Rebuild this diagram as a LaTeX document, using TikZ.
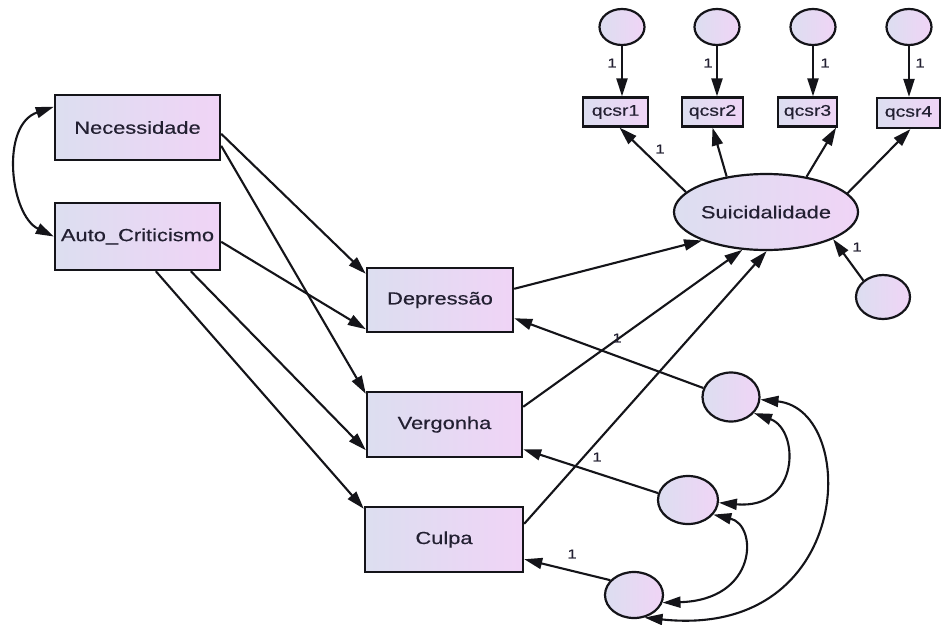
\documentclass[tikz,border=0pt]{standalone}
\usepackage{fontspec}
\newfontfamily\dfont[FakeStretch=1.25,FakeBold=0.4]{Liberation Sans}
\usetikzlibrary{shapes.geometric,arrows.meta,calc}
\definecolor{fillL}{RGB}{220,222,240}
\definecolor{fillR}{RGB}{240,212,246}
\definecolor{ink}{RGB}{35,32,50}
\definecolor{lnc}{RGB}{20,20,25}
\begin{document}
\begin{tikzpicture}[x=1pt,y=-1pt,
 rbox/.style={draw=lnc,line width=2.4pt,left color=fillL,right color=fillR,inner sep=0pt,font=\dfont\fontsize{17.5}{20}\selectfont,text=ink},
 obs/.style={rbox,font=\dfont\fontsize{15.5}{18}\selectfont,line width=2.2pt},
 lat/.style={ellipse,draw=lnc,line width=2.2pt,left color=fillL,right color=fillR,inner sep=0pt},
 arr/.style={line width=2.1pt,draw=lnc,-{Triangle[length=18pt,width=11pt]}},
 cov/.style={line width=2.1pt,draw=lnc,{Triangle[length=18pt,width=11pt]}-{Triangle[length=18pt,width=11pt]}},
 one/.style={font=\dfont\fontsize{13}{14}\selectfont,text=ink,inner sep=0pt}]
\fill[white] (0,0) rectangle (942,624);
\useasboundingbox (0,0) rectangle (942,624);

% exogenous and mediators
\node[rbox,minimum width=165pt,minimum height=65pt] (nec) at (137.5,127.5) {Necessidade};
\node[rbox,minimum width=165pt,minimum height=67pt] (auto) at (137.5,236.5) {Auto\_Criticismo};
\node[rbox,minimum width=146pt,minimum height=64pt] (dep) at (440,300) {Depressão};
\node[rbox,minimum width=155pt,minimum height=65pt] (verg) at (444.5,424.5) {Vergonha};
\node[rbox,minimum width=158pt,minimum height=65pt] (culp) at (444,539.5) {Culpa};

% latent
\node[lat,minimum width=178pt,minimum height=76pt,font=\dfont\fontsize{17.5}{20}\selectfont,text=ink] (suic) at (766,212) {Suicidalidade};

% indicators
\node[obs,minimum width=65pt,minimum height=29pt] (q1) at (615.5,112) {qcsr1};
\node[obs,minimum width=61pt,minimum height=29pt] (q2) at (712.5,112) {qcsr2};
\node[obs,minimum width=59pt,minimum height=29pt] (q3) at (807.5,112) {qcsr3};
\node[obs,minimum width=63pt,minimum height=30pt] (q4) at (908.5,113) {qcsr4};

% error terms
\node[lat,minimum width=45pt,minimum height=36pt] (c1) at (622,27) {};
\node[lat,minimum width=45pt,minimum height=36pt] (c2) at (717,27) {};
\node[lat,minimum width=45pt,minimum height=36pt] (c3) at (813,27) {};
\node[lat,minimum width=45pt,minimum height=36pt] (c4) at (909,27) {};
\node[lat,minimum width=54pt,minimum height=44pt] (es) at (883,297) {};
\node[lat,minimum width=57pt,minimum height=49pt] (e1) at (731,397) {};
\node[lat,minimum width=60pt,minimum height=48pt] (e2) at (688,500) {};
\node[lat,minimum width=58pt,minimum height=46pt] (e3) at (634,595) {};

% regression paths
\draw[arr] ($(nec.north east)+(0,40)$) -- ($(dep.north west)+(0,7)$);
\draw[arr] ($(nec.north east)+(0,52)$) -- ($(verg.north west)+(0,3)$);
\draw[arr] ($(auto.north east)+(0,40)$) -- ($(dep.south west)+(0,-4)$);
\draw[arr] ($(auto.south west)+(137,0)$) -- ($(verg.south west)+(0,-8)$);
\draw[arr] ($(auto.south west)+(102,0)$) -- ($(culp.north west)+(0,3)$);

\draw[arr] ($(dep.north east)+(0,22)$) -- (suic.204);
\draw[arr] ($(verg.north east)+(0,16)$) -- (suic.238);
\draw[arr] ($(culp.north east)+(0,18)$) -- (suic.271);

\draw[arr] (suic.166) -- ($(q1.south)+(4,0)$);
\draw[arr] (suic.138) -- (q2.south);
\draw[arr] (suic.41) -- ($(q3.south east)+(-2,0)$);
\draw[arr] (suic.13) -- ($(q4.south)+(2,0)$);

\draw[arr] (c1.south) -- (c1.south |- q1.north);
\draw[arr] (c2.south) -- (c2.south |- q2.north);
\draw[arr] (c3.south) -- (c3.south |- q3.north);
\draw[arr] (c4.south) -- (c4.south |- q4.north);

\draw[arr] (es.140) -- (suic.-22);
\draw[arr] (e1.162) -- ($(dep.south east)+(0,-15)$);
\draw[arr] (e2.167) -- ($(verg.south east)+(0,-9)$);
\draw[arr] (e3.148) -- ($(culp.south east)+(0,-14)$);

% covariances
\draw[cov] ($(nec.north west)+(0,13)$) .. controls (0,125) and (10,215) .. (auto.west);
\draw[cov] (e1.-35) .. controls (800,430) and (800,510) .. (e2.-5);
\draw[cov] (e2.-30) .. controls (758,525) and (758,600) .. (e3.-15);
\draw[cov] (e1.-5) .. controls (860,410) and (855,640) .. (e3.-65);

% labels
\node[one] (l1) at (612,63) {1};
\node[one] (l2) at (708,63) {1};
\node[one] (l3) at (825,63) {1};
\node[one] (l4) at (920,63) {1};
\node[one] (l5) at (660,149) {1};
\node[one] (l6) at (857,247) {1};
\node[one] (l7) at (617,338) {1};
\node[one] (l8) at (597,457) {1};
\node[one] (l9) at (572,554) {1};
\end{tikzpicture}
\end{document}
